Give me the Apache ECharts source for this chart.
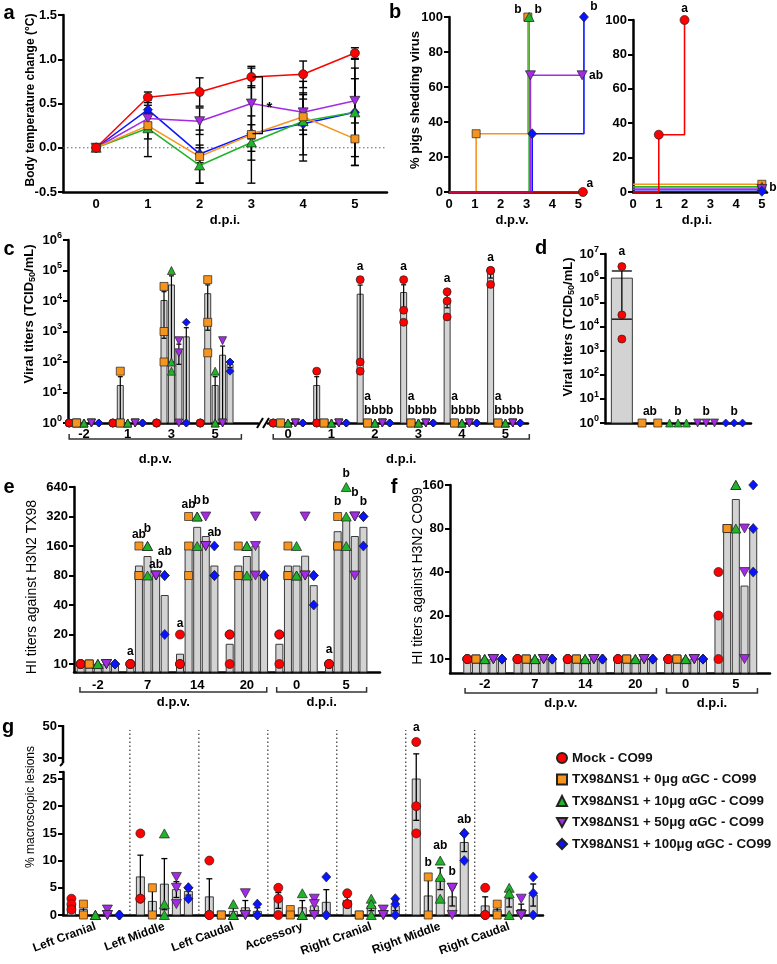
<!DOCTYPE html>
<html><head><meta charset="utf-8"><title>Figure</title>
<script src="https://cdn.jsdelivr.net/npm/echarts@6.0.0/dist/echarts.min.js"></script>
<style>html,body{margin:0;padding:0;background:#fff;}#chart{width:777px;height:964px;}</style>
</head><body><div id="chart"></div>
<script>
// ===================== DATA =====================
const groupNames = ['Mock - CO99', 'TX98\u0394NS1 + 0\u03bcg \u03b1GC - CO99', 'TX98\u0394NS1 + 10\u03bcg \u03b1GC - CO99', 'TX98\u0394NS1 + 50\u03bcg \u03b1GC - CO99', 'TX98\u0394NS1 + 100\u03bcg \u03b1GC - CO99'];

// (a) body temperature change (mean, SEM)
const aDays = [0, 1, 2, 3, 4, 5];
const aMeanMock = [0, 0.57, 0.63, 0.80, 0.83, 1.07];
const aMean0 = [0, 0.25, -0.10, 0.15, 0.35, 0.10];
const aMean10 = [0, 0.22, -0.20, 0.06, 0.30, 0.40];
const aMean50 = [0, 0.33, 0.30, 0.50, 0.40, 0.53];
const aMean100 = [0, 0.43, -0.07, 0.16, 0.27, 0.40];
const aSemMock = [0, 0.06, 0.16, 0.12, 0.15, 0.06];
const aSem0 = [0, 0.15, 0.30, 0.55, 0.20, 0.30];
const aSem10 = [0, 0.32, 0.20, 0.20, 0.45, 0.50];
const aSem50 = [0, 0.05, 0.15, 0.40, 0.20, 0.25];
const aSem100 = [0, 0.05, 0.10, 0.20, 0.35, 0.60];
const aSignif = [3, 0.80, 0.16, '*'];

// (b) % pigs shedding virus (step curves: [day, %])
const bTicks = ['0', '1', '2', '3', '4', '5'];
const bDpvSteps = [
  [[0, 0], [5, 0]],
  [[0, 0], [1, 0], [1, 33.3], [3, 33.3], [3, 100]],
  [[0, 0], [3, 0], [3, 100]],
  [[0, 0], [3, 0], [3, 66.7], [5, 66.7]],
  [[0, 0], [3, 0], [3, 33.3], [5, 33.3], [5, 100]]
];
const bDpvMarks = [[[5, 0]], [[1, 33.3], [3, 100]], [[3, 100]], [[3, 66.7], [5, 66.7]], [[3, 33.3], [5, 100]]];
const bDpvLetters = ['a', 'b', 'b', 'ab', 'b'];
const bDpiSteps = [
  [[0, 0], [1, 0], [1, 33.3], [2, 33.3], [2, 100]],
  [[0, 0], [5, 0]], [[0, 0], [5, 0]], [[0, 0], [5, 0]], [[0, 0], [5, 0]]
];
const bDpiMarks = [[[1, 33.3], [2, 100]], [[5, 0]], [[5, 0]], [[5, 0]], [[5, 0]]];
const bDpiLetters = ['a', '', 'b', '', ''];

// (c) viral titers in nasal swabs (TCID50/mL)
const cDpvDays = ['-2', '1', '3', '5'];
const cDpiDays = ['0', '1', '2', '3', '4', '5'];
const cDpvPoints = [
  [[1, 1, 1], [1, 1, 1], [1, 1, 1], [1, 1, 1]],
  [[1, 1, 1], [50, 1, 1], [30000, 1000, 100], [50000, 2000, 200]],
  [[1, 1, 1], [1, 1, 1], [100000, 100, 50], [50, 1, 1]],
  [[1, 1, 1], [1, 1, 1], [500, 200, 1], [500, 1, 1]],
  [[1, 1, 1], [1, 1, 1], [2000, 1, 1], [100, 100, 50]]
];
const cDpvMean = [[1, 1, 1, 1], [1, 17, 10400, 17400], [1, 1, 33400, 17], [1, 1, 234, 167], [1, 1, 667, 83]];
const cDpvSem = [[0, 0, 0, 0], [0, 16, 9800, 16300], [0, 0, 33300, 16], [0, 0, 150, 166], [0, 0, 666, 17]];
const cDpiPoints = [
  [[1, 1, 1], [50, 1, 1], [50000, 100, 50], [50000, 5000, 2000], [20000, 10000, 3000], [100000, 100000, 35000]],
  [[1, 1], [1, 1], [1, 1], [1, 1], [1, 1], [1, 1]],
  [[1, 1, 1], [1, 1, 1], [1, 1, 1], [1, 1, 1], [1, 1, 1], [1, 1, 1]],
  [[1, 1, 1], [1, 1, 1], [1, 1, 1], [1, 1, 1], [1, 1, 1], [1, 1, 1]],
  [[1, 1, 1], [1, 1, 1], [1, 1, 1], [1, 1, 1], [1, 1, 1], [1, 1, 1]]
];
const cDpiMean = [[1, 17, 16700, 19000, 11000, 78000], [1, 1, 1, 1, 1, 1], [1, 1, 1, 1, 1, 1], [1, 1, 1, 1, 1, 1], [1, 1, 1, 1, 1, 1]];
const cDpiSem = [[0, 16, 16600, 15000, 5000, 21500], [0, 0, 0, 0, 0, 0], [0, 0, 0, 0, 0, 0], [0, 0, 0, 0, 0, 0], [0, 0, 0, 0, 0, 0]];
const cDpiLetters = [null, null, ['a', 'ab', 'b', 'b', 'b'], ['a', 'ab', 'b', 'b', 'b'], ['a', 'ab', 'b', 'b', 'b'], ['a', 'ab', 'b', 'b', 'b']];

// (d) viral titers in BALF
const dPoints = [[3000000, 30000, 3000], [1, 1], [1, 1, 1], [1, 1, 1], [1, 1, 1]];
const dMean = [1000000, 1, 1, 1, 1];
const dSem = [980000, 0, 0, 0, 0];
const dLetters = ['a', 'ab', 'b', 'b', 'b'];

// (e) HI titers against H3N2 TX98
const eDays = ['-2', '7', '14', '20', '0', '5'];
const ePoints = [
  [[10, 10, 10], [10, 10, 10], [20, 10, 10], [20, 20, 10], [20, 20, 10], [10, 10, 10]],
  [[10, 10, 10], [160, 80, 80], [320, 160, 80], [160, 80, 80], [160, 80, 80], [320, 160, 160]],
  [[10, 10, 10], [160, 160, 80], [320, 320, 160], [160, 160, 80], [160, 80, 80], [640, 320, 160]],
  [[10, 10, 10], [80, 80, 80], [320, 160, 160], [320, 160, 80], [320, 80, 80], [320, 320, 80]],
  [[10, 10, 10], [80, 80, 20], [160, 80, 80], [80, 80, 80], [80, 80, 40], [320, 320, 160]]
];
const eGMT = [
  [10, 10, 12.6, 15.9, 15.9, 10],
  [10, 100, 148, 100, 100, 224],
  [10, 125, 248, 125, 100, 307],
  [10, 80, 200, 160, 126, 200],
  [10, 50, 100, 80, 63, 248]
];
const eLetters = [null, ['a', 'ab', 'b', 'ab', 'ab'], ['a', 'ab', 'b', 'b', 'ab'], null, null, ['a', 'b', 'b', 'b', 'b']];

// (f) HI titers against H3N2 CO99
const fPoints = [
  [[10, 10, 10], [10, 10, 10], [10, 10, 10], [10, 10, 10], [10, 10, 10], [40, 20, 10]],
  [[10, 10, 10], [10, 10, 10], [10, 10, 10], [10, 10, 10], [10, 10, 10], [80, 80, 80]],
  [[10, 10, 10], [10, 10, 10], [10, 10, 10], [10, 10, 10], [10, 10, 10], [160, 160, 80]],
  [[10, 10, 10], [10, 10, 10], [10, 10, 10], [10, 10, 10], [10, 10, 10], [80, 40, 10]],
  [[10, 10, 10], [10, 10, 10], [10, 10, 10], [10, 10, 10], [10, 10, 10], [160, 80, 40]]
];
const fGMT = [
  [10, 10, 10, 10, 10, 20],
  [10, 10, 10, 10, 10, 80],
  [10, 10, 10, 10, 10, 127],
  [10, 10, 10, 10, 10, 32],
  [10, 10, 10, 10, 10, 80]
];

// (g) % macroscopic lesions per lung lobe
const gLobes = ['Left Cranial', 'Left Middle', 'Left Caudal', 'Accessory', 'Right Cranial', 'Right Middle', 'Right Caudal'];
const gUpperTicks = [30, 50];
const gLowerTicks = [0, 5, 10, 15, 20, 25];
const gPoints = [
  [[3, 2, 1], [15, 3, 3], [10, 0, 0], [5, 3, 0], [4, 2, 2], [40, 20, 15], [5, 0, 0]],
  [[2, 0], [5, 0], [0, 0], [1, 0], [0, 0], [7, 0], [2, 0]],
  [[0, 0, 0], [15, 2, 0], [2, 0, 0], [4, 0, 0], [3, 2, 0], [10, 7, 3], [5, 4, 0]],
  [[1, 0, 0], [7, 5, 2], [4, 0, 0], [3, 2, 0], [1, 0, 0], [5, 5, 0], [3, 0, 0]],
  [[0, 0, 0], [5, 5, 3], [2, 0, 0], [7, 0, 0], [3, 2, 0], [15, 15, 10], [7, 4, 0]]
];
const gMean = [
  [2, 7, 3.33, 2.67, 2.67, 25, 1.67],
  [1, 2.5, 0, 0.5, 0, 3.5, 1],
  [0, 5.67, 0.67, 1.33, 1.67, 6.67, 3],
  [0.33, 4.67, 1.33, 1.67, 0.33, 3.33, 1],
  [0, 4.33, 0.67, 2.33, 1.67, 13.33, 3.67]
];
const gSem = [
  [0.58, 4, 3.33, 1.45, 0.67, 7.6, 1.67],
  [1, 2.5, 0, 0.5, 0, 3.5, 1],
  [0, 4.7, 0.67, 1.33, 0.88, 2.0, 1.53],
  [0.33, 1.45, 1.33, 0.88, 0.33, 1.67, 1],
  [0, 0.67, 0.67, 2.33, 0.88, 1.67, 2.03]
];
const gLetters = [null, null, null, null, null, ['a', 'b', 'ab', 'b', 'ab'], null];

// ===================== STYLE / HELPERS =====================
const F = '"Liberation Sans", Arial, Helvetica, sans-serif';
const COL = ['#ff0000', '#f7941d', '#1fb42a', '#a52ae6', '#0a14ff'];
const SYM = ['circle', 'rect', 'triangle', 'path://M0,0L10,0L5,9Z', 'diamond'];
const SZ = [[9, 9], [8, 8], [10, 9], [10, 9], [9, 10]];
const MK_BORDER = {borderColor: '#222', borderWidth: 0.7};
const BAR_STYLE = {fill: '#d3d3d3', stroke: '#3a3a3a', lineWidth: 1};
const RICH_POW = {
  b: {fontFamily: F, fontWeight: 'bold', fontSize: 13, color: '#000', lineHeight: 18},
  s: {fontFamily: F, fontWeight: 'bold', fontSize: 9, color: '#000', lineHeight: 6, verticalAlign: 'top'}
};
const HIDDEN_LINE = {show: false, onZero: false};

const grids = [], xAxes = [], yAxes = [], series = [], graphic = [];
function axisBase(extra) {
  return Object.assign({type: 'value', axisLine: {show: true, onZero: false, lineStyle: {color: '#000', width: 2.5}},
    axisTick: {show: false}, axisLabel: {show: false}, splitLine: {show: false}}, extra || {});
}
function addGrid(box, xo, yo) {
  const gi = grids.length;
  grids.push({left: box[0], top: box[1], width: box[2], height: box[3], containLabel: false});
  xAxes.push(axisBase(Object.assign({gridIndex: gi, position: 'bottom'}, xo)));
  yAxes.push(axisBase(Object.assign({gridIndex: gi, position: 'left'}, yo)));
  return gi;
}
function yLab(fmt, custom, extra) {
  const o = {show: true, color: '#000', fontFamily: F, fontWeight: 'bold', fontSize: 13, margin: 6, formatter: fmt, showMinLabel: true, showMaxLabel: true};
  if (custom) o.customValues = custom;
  return Object.assign(o, extra || {});
}
function yTick(custom) {
  const o = {show: true, length: 5, lineStyle: {color: '#000', width: 2}};
  if (custom) o.customValues = custom;
  return o;
}
function xLab(values, names, margin, extra) {
  return Object.assign({show: true, customValues: values,
    formatter: v => { const i = values.findIndex(u => Math.abs(u - v) < 1e-6); return i >= 0 ? names[i] : ''; },
    color: '#000', fontFamily: F, fontWeight: 'bold', fontSize: 13, margin: margin}, extra || {});
}
function custom(gi, data, renderItem, z) {
  series.push({type: 'custom', xAxisIndex: gi, yAxisIndex: gi, data: data, renderItem: renderItem, z: z, silent: true, animation: false, clip: false});
}
function bars(gi, data, w, base) {
  custom(gi, data, (p, api) => {
    const x = api.value(0);
    const t = api.coord([x, api.value(1)]), b = api.coord([x, base]);
    return {type: 'rect', shape: {x: t[0] - w / 2, y: t[1], width: w, height: b[1] - t[1]}, style: Object.assign({}, BAR_STYLE)};
  }, 2);
}
function errs(gi, data, cap, lw) {
  custom(gi, data, (p, api) => {
    const x = api.value(0);
    const lo = api.coord([x, api.value(1)]), hi = api.coord([x, api.value(2)]);
    const st = {stroke: '#000', lineWidth: lw || 1.3};
    const ch = [{type: 'line', shape: {x1: lo[0], y1: lo[1], x2: hi[0], y2: hi[1]}, style: st}];
    if (api.value(4)) ch.push({type: 'line', shape: {x1: hi[0] - cap / 2, y1: hi[1], x2: hi[0] + cap / 2, y2: hi[1]}, style: st});
    if (api.value(3)) ch.push({type: 'line', shape: {x1: lo[0] - cap / 2, y1: lo[1], x2: lo[0] + cap / 2, y2: lo[1]}, style: st});
    return {type: 'group', children: ch};
  }, 3);
}
function pts(gi, data, s, name, size) {
  series.push({type: 'scatter', name: name, xAxisIndex: gi, yAxisIndex: gi, data: data, symbol: SYM[s], symbolSize: size || SZ[s],
    itemStyle: Object.assign({color: COL[s], opacity: 1}, MK_BORDER), z: 4, silent: true, animation: false, clip: false});
}
function txtStyle(text, font, extra) {
  return Object.assign({text: text, font: font, fill: '#000', textAlign: 'center', textVerticalAlign: 'middle', align: 'center', verticalAlign: 'middle'}, extra || {});
}
function letters(gi, items) { // items: [x, y, text, dxPx, dyPx]
  custom(gi, items.map(it => [it[0], it[1]]), (p, api) => {
    const it = items[p.dataIndex];
    const c = api.coord([api.value(0), api.value(1)]);
    return {type: 'text', x: c[0] + (it[3] || 0), y: c[1] + (it[4] || 0), style: txtStyle(it[2], 'bold 12px ' + F, {lineHeight: 14})};
  }, 6);
}
function bracket(gi, x0, x1, baseY, drop, label, labDrop) {
  custom(gi, [[x0, x1]], (p, api) => {
    const a = api.coord([api.value(0), baseY]), b = api.coord([api.value(1), baseY]);
    const y = a[1] + drop;
    return {type: 'group', children: [
      {type: 'polyline', shape: {points: [[a[0], y - 5], [a[0], y], [b[0], y], [b[0], y - 5]]}, style: {stroke: '#333', lineWidth: 1.5, fill: 'none'}},
      {type: 'text', x: (a[0] + b[0]) / 2, y: y + labDrop, style: txtStyle(label, 'bold 13px ' + F)}
    ]};
  }, 5);
}
function gtext(x, y, text, font, rot, rich, align, zl) {
  const st = txtStyle(text, font);
  if (rich) st.rich = rich;
  if (align) { st.textAlign = align; st.align = align; }
  graphic.push({type: 'text', x: x, y: y, rotation: rot || 0, silent: true, zlevel: zl || 0, z: 100, style: st});
}
function gline(x1, y1, x2, y2, w, zl) {
  graphic.push({type: 'line', silent: true, zlevel: zl || 0, z: 100, shape: {x1: x1, y1: y1, x2: x2, y2: y2}, style: {stroke: '#000', lineWidth: w}});
}
function grect(x, y, w, h, zl) {
  graphic.push({type: 'rect', silent: true, zlevel: zl || 0, z: 100, shape: {x: x, y: y, width: w, height: h}, style: {fill: '#000'}});
}
const log10 = v => Math.log10(v);
const log2r = v => Math.log2(v / 10);
const maxOf = a => Math.max.apply(null, a);

// ===================== PANEL a =====================
const aMeans = [aMeanMock, aMean0, aMean10, aMean50, aMean100];
const aSems = [aSemMock, aSem0, aSem10, aSem50, aSem100];
const gA = addGrid([63, 15, 324, 177],
  {min: -0.64, max: 5.62, axisLabel: xLab(aDays, aDays.map(String), 6)},
  {min: -0.5, max: 1.5, interval: 0.5, axisTick: yTick(), axisLabel: yLab(v => v.toFixed(1))});
custom(gA, [[-0.64, 5.62]], (p, api) => {
  const a = api.coord([api.value(0), 0]), b = api.coord([api.value(1), 0]);
  return {type: 'line', shape: {x1: a[0], y1: a[1], x2: b[0], y2: b[1]}, style: {stroke: '#666', lineWidth: 1, lineDash: [1.5, 2.5]}};
}, 1);
for (let s = 0; s < 5; s++) {
  errs(gA, aDays.map((d, i) => [d, aMeans[s][i] - aSems[s][i], aMeans[s][i] + aSems[s][i], 1, 1]).filter(r => r[2] > r[1]), 8, 1.4);
}
[4, 3, 2, 1, 0].forEach(s => {
  series.push({type: 'line', xAxisIndex: gA, yAxisIndex: gA, data: aDays.map((d, i) => [d, aMeans[s][i]]),
    symbol: SYM[s], symbolSize: SZ[s], showSymbol: true, lineStyle: {color: COL[s], width: 1.5},
    itemStyle: Object.assign({color: COL[s]}, MK_BORDER), z: 4, silent: true, animation: false, clip: false});
});
custom(gA, [[aSignif[0], aSignif[1], aSignif[2]]], (p, api) => {
  const t = api.coord([api.value(0), api.value(1)]), b = api.coord([api.value(0), api.value(2)]);
  const x = t[0] + 11;
  return {type: 'group', children: [
    {type: 'polyline', shape: {points: [[x - 10, t[1]], [x, t[1]], [x, b[1]], [x - 10, b[1]]]}, style: {stroke: '#000', lineWidth: 1.3, fill: 'none'}},
    {type: 'text', x: x + 7, y: (t[1] + b[1]) / 2 + 3, style: txtStyle(aSignif[3], 'bold 15px ' + F)}
  ]};
}, 5);
gtext(9, 13, 'a', 'bold 20px ' + F);
gtext(31, 100, 'Body temperature change (\u00b0C)', 'bold 12px ' + F, Math.PI / 2);
gtext(225, 220, 'd.p.i.', 'bold 13px ' + F);

// ===================== PANEL b =====================
const bDx = [0.18, 0.05, 0.1, 0.15, 0.22];
const bDy = [0, 4.5, 3, 1.7, 0.4];
const gBL = addGrid([449, 17, 137, 175],
  {min: 0, max: 5.3, axisLabel: xLab([0, 1, 2, 3, 4, 5], bTicks, 6)},
  {min: 0, max: 100, interval: 20, axisTick: yTick(), axisLabel: yLab(v => String(v))});
const gBR = addGrid([633, 20, 134, 172],
  {min: 0, max: 5.2, axisLabel: xLab([0, 1, 2, 3, 4, 5], bTicks, 6)},
  {min: 0, max: 100, interval: 20, axisTick: yTick(), axisLabel: yLab(v => String(v))});
const shiftX = (s, arr) => arr.map(p => [p[0] > 0 ? p[0] + bDx[s] : p[0], p[1]]);
const shiftY = (s, arr) => arr.map(p => [p[0], p[1] + bDy[s]]);
function stepLine(gi, data, s) {
  series.push({type: 'line', xAxisIndex: gi, yAxisIndex: gi, data: data, showSymbol: false, symbol: 'none',
    lineStyle: {color: COL[s], width: 1.6}, z: 3, silent: true, animation: false, clip: false});
}
[1, 2, 3, 4, 0].forEach(s => { stepLine(gBL, shiftX(s, bDpvSteps[s]), s); pts(gBL, shiftX(s, bDpvMarks[s]), s); });
const bLOff = [[7, -8], [-10, -7], [9, -7], [14, 0], [10, -10]];
letters(gBL, bDpvLetters.map((t, s) => { const m = shiftX(s, bDpvMarks[s]); const last = m[m.length - 1]; return [last[0], last[1], t, bLOff[s][0], bLOff[s][1]]; }));
[1, 2, 3, 4, 0].forEach(s => { stepLine(gBR, shiftY(s, bDpiSteps[s]), s); pts(gBR, shiftY(s, bDpiMarks[s]), s); });
const bROff = [[0, -11], [0, 0], [11, 1], [0, 0], [0, 0]];
letters(gBR, bDpiLetters.map((t, s) => { const m = shiftY(s, bDpiMarks[s]); const last = m[m.length - 1]; return [last[0], last[1], t, bROff[s][0], bROff[s][1]]; }).filter(r => r[2]));
gtext(395, 12, 'b', 'bold 20px ' + F);
gtext(415, 100, '% pigs shedding virus', 'bold 13px ' + F, Math.PI / 2);
gtext(512, 220, 'd.p.v.', 'bold 13px ' + F);
gtext(697, 220, 'd.p.i.', 'bold 13px ' + F);

// ===================== PANEL c =====================
const cOff = 0.17;
const cx = (g, m) => g + (m - 2) * cOff;
const gCL = addGrid([68, 240, 190, 183],
  {min: -0.366, max: 3.98, axisLabel: xLab([0, 1, 2, 3], cDpvDays, 5)},
  {min: 0, max: 6, interval: 1, axisTick: yTick(), axisLabel: yLab(v => '{b|10}{s|' + v + '}', null, {rich: RICH_POW})});
const gCR = addGrid([268, 240, 260, 183],
  {min: -0.46, max: 5.52, axisLabel: xLab([0, 1, 2, 3, 4, 5], cDpiDays, 5)},
  {min: 0, max: 6, axisLine: HIDDEN_LINE});
function viralPanel(gi, points, means, sems, nG) {
  const barD = [], errD = [];
  for (let s = 0; s < 5; s++) {
    const pd = [];
    for (let g = 0; g < nG; g++) {
      const x = cx(g, s), m = means[s][g], e = sems[s][g];
      if (m > 1) barD.push([x, log10(m)]);
      if (e > 0) errD.push([x, log10(Math.max(m - e, 1)), log10(m + e), 1, 1]);
      points[s][g].forEach(v => pd.push([x, log10(v)]));
    }
    pts(gi, pd, s, null, [8, 8]);
  }
  bars(gi, barD, 6, 0);
  errs(gi, errD, 5, 1.2);
}
viralPanel(gCL, cDpvPoints, cDpvMean, cDpvSem, 4);
viralPanel(gCR, cDpiPoints, cDpiMean, cDpiSem, 6);
const cLet = [];
cDpiLetters.forEach((arr, g) => {
  if (!arr) return;
  arr.forEach((t, s) => {
    if (s === 0) cLet.push([cx(g, s), log10(maxOf(cDpiPoints[0][g])), t, 0, -13]);
    else cLet.push([cx(g, s), 0, t.split('').join('\n'), 0, -12 - 7 * (t.length - 1)]);
  });
});
letters(gCR, cLet);
bracket(gCL, -0.34, 3.6, 0, 16, 'd.p.v.', 20);
bracket(gCR, -0.34, 5.55, 0, 16, 'd.p.i.', 20);
gline(257, 428, 263, 418, 2);
gline(263, 428, 269, 418, 2);
gtext(9, 249, 'c', 'bold 20px ' + F);
const TITER_RICH = {m: {fontFamily: F, fontWeight: 'bold', fontSize: 13, lineHeight: 16, color: '#000'}, sub: {fontFamily: F, fontWeight: 'bold', fontSize: 9, lineHeight: 8, verticalAlign: 'bottom', color: '#000'}};
gtext(29, 314, '{m|Viral titers (TCID}{sub|50}{m|/mL)}', 'bold 13px ' + F, Math.PI / 2, TITER_RICH);

// ===================== PANEL d =====================
const gD = addGrid([605, 254, 146, 169],
  {min: -0.6, max: 4.6},
  {min: 0, max: 7, interval: 1, axisTick: yTick(), axisLabel: yLab(v => '{b|10}{s|' + v + '}', null, {rich: RICH_POW})});
const dJit = {1: [0], 2: [-0.28, 0.28], 3: [-0.3, 0, 0.3]};
const dBars = [], dErr = [];
for (let s = 0; s < 5; s++) {
  if (dMean[s] > 1) dBars.push([s, log10(dMean[s])]);
  if (dSem[s] > 0) dErr.push([s, log10(Math.max(dMean[s] - dSem[s], 1)), log10(dMean[s] + dSem[s]), 1, 1]);
  const j = dMean[s] > 1 ? dPoints[s].map(() => 0) : dJit[dPoints[s].length];
  pts(gD, dPoints[s].map((v, k) => [s + j[k], log10(v)]), s, null, [8, 8]);
}
bars(gD, dBars, 21, 0);
errs(gD, dErr, 20, 1.3);
letters(gD, dLetters.map((t, s) => dMean[s] > 1 ? [s, log10(maxOf(dPoints[s])), t, 0, -15] : [s, 0, t, 0, -11]));
gtext(541, 248, 'd', 'bold 20px ' + F);
gtext(568, 327, '{m|Viral titers (TCID}{sub|50}{m|/mL)}', 'bold 13px ' + F, Math.PI / 2, TITER_RICH);

// ===================== PANEL e / f =====================
const hOff = 0.173;
const hx = (g, m) => g + (m - 2) * hOff;
function hiPanel(gi, points, gmt, yMin) {
  const barD = [];
  for (let s = 0; s < 5; s++) {
    const pd = [];
    for (let g = 0; g < 6; g++) {
      barD.push([hx(g, s), log2r(gmt[s][g])]);
      points[s][g].forEach(v => pd.push([hx(g, s), log2r(v)]));
    }
    pts(gi, pd, s);
  }
  bars(gi, barD, 7, yMin);
}
const gE = addGrid([74, 487, 306, 185],
  {min: -0.48, max: 5.68, axisLabel: xLab([0, 1, 2, 3, 4, 5], eDays, 7)},
  {min: -0.27, max: 6, axisTick: yTick([0, 1, 2, 3, 4, 5, 6]), axisLabel: yLab(v => String(Math.round(10 * Math.pow(2, v))), [0, 1, 2, 3, 4, 5, 6])});
hiPanel(gE, ePoints, eGMT, -0.27);
const eLift = {1: [12, 11, 17, 11, 24], 2: [11, 12, 16, 16, 13], 5: [14, 15, 13, 24, 15]};
const eLet = [];
eLetters.forEach((arr, g) => {
  if (!arr) return;
  arr.forEach((t, s) => eLet.push([hx(g, s), log2r(maxOf(ePoints[s][g])), t, 0, -eLift[g][s]]));
});
letters(gE, eLet);
bracket(gE, -0.36, 3.4, -0.27, 20, 'd.p.v.', 10);
bracket(gE, 3.6, 5.41, -0.27, 20, 'd.p.i.', 10);
gtext(9, 487, 'e', 'bold 20px ' + F);
gtext(32, 587, 'HI titers against H3N2 TX98', '14px ' + F, Math.PI / 2);

const gF = addGrid([450, 485, 320, 188],
  {min: -0.69, max: 5.68, axisLabel: xLab([0, 1, 2, 3, 4, 5], eDays, 5)},
  {min: -0.32, max: 4, axisTick: yTick([0, 1, 2, 3, 4]), axisLabel: yLab(v => String(Math.round(10 * Math.pow(2, v))), [0, 1, 2, 3, 4])});
hiPanel(gF, fPoints, fGMT, -0.32);
bracket(gF, -0.39, 3.42, -0.32, 20, 'd.p.v.', 10);
bracket(gF, 3.62, 5.43, -0.32, 20, 'd.p.i.', 10);
gtext(394, 487, 'f', 'bold 20px ' + F);
gtext(418, 576, 'HI titers against H3N2 CO99', '14px ' + F, Math.PI / 2);

// ===================== PANEL g =====================
const gOff = 0.174;
const gx = (g, m) => g + (m - 2) * gOff;
const G_LOW_MAX = 26.29, G_UP_MIN = 26.875, G_UP_MAX = 51.5, G_STEM_FROM = 21.25;
const GU_BOX = [63, 723.6, 480, 39.4];
const gGU = addGrid(GU_BOX,
  {min: -0.47, max: 6.49, axisLine: HIDDEN_LINE},
  {min: G_UP_MIN, max: G_UP_MAX, axisLine: HIDDEN_LINE});
const gGL = addGrid([63, 772, 480, 143],
  {min: -0.47, max: 6.49, axisLabel: xLab([0, 1, 2, 3, 4, 5, 6], gLobes, 11, {rotate: 20, fontSize: 12})},
  {min: 0, max: G_LOW_MAX, axisTick: yTick(gLowerTicks), axisLabel: yLab(v => String(v), gLowerTicks)});
// upper segment of the broken y axis, drawn on its own layer with the upper grid's linear mapping
const yUp = v => GU_BOX[1] + (G_UP_MAX - v) / (G_UP_MAX - G_UP_MIN) * GU_BOX[3];
grect(61.75, yUp(50) - 1, 2.5, GU_BOX[1] + GU_BOX[3] - yUp(50) + 1, 3);
gUpperTicks.forEach(v => { grect(58, yUp(v) - 1, 5, 2, 3); gtext(57, yUp(v), String(v), 'bold 13px ' + F, 0, null, 'right', 3); });
gline(63, 763, 60, 766, 2, 3);
gline(59, 772, 64, 772, 2, 3);
// dotted separators between lobes
custom(gGL, gLobes.slice(1).map((n, i) => [i + 0.5, 0, 34]), (p, api) => {
  const a = api.coord([api.value(0), api.value(1)]), b = api.coord([api.value(0), api.value(2)]);
  return {type: 'line', shape: {x1: a[0], y1: a[1], x2: b[0], y2: b[1]}, style: {stroke: '#333', lineWidth: 1.2, lineDash: [1.5, 2.5]}};
}, 1);
const gBars = [], gErrLo = [], gErrUp = [];
for (let s = 0; s < 5; s++) {
  const lo = [], up = [];
  for (let g = 0; g < 7; g++) {
    const x = gx(g, s), m = gMean[s][g], e = gSem[s][g];
    if (m > 0) gBars.push([x, m]);
    if (e > 0) {
      const top = m + e, bot = Math.max(m - e, 0);
      gErrLo.push([x, bot, Math.min(top, G_LOW_MAX), bot > 0 ? 1 : 0, top <= G_LOW_MAX ? 1 : 0]);
      if (top > G_LOW_MAX) gErrUp.push([x, G_STEM_FROM, top, 0, 1]);
    }
    gPoints[s][g].forEach(v => (v > G_LOW_MAX ? up : lo).push([x, v]));
  }
  pts(gGL, lo, s, groupNames[s]);
  if (up.length) pts(gGU, up, s);
}
bars(gGL, gBars, 8, 0);
errs(gGL, gErrLo, 6, 1.3);
errs(gGU, gErrUp, 6, 1.3);
const gLift = [14, 14, 15, 16, 14];
const gLetLo = [], gLetUp = [];
gLetters.forEach((arr, g) => {
  if (!arr) return;
  arr.forEach((t, s) => {
    const top = maxOf(gPoints[s][g]);
    (top > G_LOW_MAX ? gLetUp : gLetLo).push([gx(g, s), top, t, 0, -gLift[s]]);
  });
});
letters(gGL, gLetLo);
letters(gGU, gLetUp);
gtext(8, 727, 'g', 'bold 20px ' + F);
gtext(31, 807, '% macroscopic lesions', '12px ' + F, Math.PI / 2);

// ===================== RENDER =====================
const chart = echarts.init(document.getElementById('chart'), null, {renderer: 'canvas'});
chart.setOption({
  animation: false,
  grid: grids, xAxis: xAxes, yAxis: yAxes, series: series, graphic: graphic,
  legend: {show: true, orient: 'vertical', left: 551, top: 746, itemWidth: 10, itemHeight: 10, itemGap: 7.5,
    selectedMode: false, data: groupNames,
    textStyle: {fontFamily: F, fontWeight: 'bold', fontSize: 13.3, color: '#111', lineHeight: 14}}
});
</script>
</body></html>
